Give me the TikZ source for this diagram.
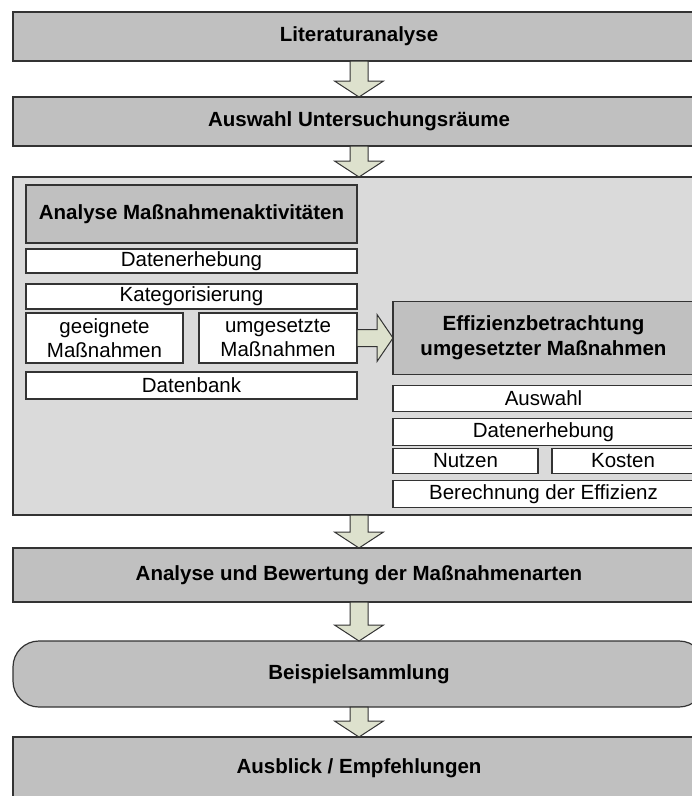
\documentclass[tikz,border=0pt]{standalone}
\usepackage{fontspec}
\setmainfont{Liberation Sans}
\usetikzlibrary{positioning,calc}

\definecolor{boxgrey}{HTML}{C0C0C0}
\definecolor{panelgrey}{HTML}{DADADA}
\definecolor{arrowgreen}{HTML}{DDE1CD}
\definecolor{linegrey}{HTML}{333333}

\tikzset{
  mainbox/.style={draw=linegrey, line width=1.2bp, fill=boxgrey, outer sep=0pt, inner sep=0pt,
    minimum width=692bp, font=\bfseries\fontsize{20.5bp}{24bp}\selectfont},
  panel/.style={draw=linegrey, line width=1.2bp, fill=panelgrey, outer sep=0pt,
    minimum width=692bp, minimum height=338bp},
  headbox/.style={draw=linegrey, line width=1.2bp, fill=boxgrey, outer sep=0pt, inner sep=0pt,
    align=center, font=\bfseries\fontsize{20.5bp}{25bp}\selectfont},
  subbox/.style={draw=linegrey, line width=1.2bp, fill=white, outer sep=0pt, inner sep=0pt,
    align=center, font=\fontsize{20.5bp}{23.5bp}\selectfont},
  flowarrow/.style={draw=linegrey, line width=1bp, fill=arrowgreen, line join=miter},
}

\newcommand{\flowdown}[2]{%
  \draw[flowarrow] ($(#1.south)+(-9bp,0)$) -- ($(#2.north)+(-9bp,16bp)$)
    -- ($(#2.north)+(-24.5bp,16bp)$) -- (#2.north)
    -- ($(#2.north)+(24.5bp,16bp)$) -- ($(#2.north)+(9bp,16bp)$)
    -- ($(#1.south)+(9bp,0)$) -- cycle;}
\newcommand{\flowright}[2]{%
  \draw[flowarrow] ($(#1.east)+(0,8.5bp)$) -- ($(#2.west)+(-16bp,8.5bp)$)
    -- ($(#2.west)+(-16bp,23.5bp)$) -- (#2.west)
    -- ($(#2.west)+(-16bp,-23.5bp)$) -- ($(#2.west)+(-16bp,-8.5bp)$)
    -- ($(#1.east)+(0,-8.5bp)$) -- cycle;}

\begin{document}
\begin{tikzpicture}
  \useasboundingbox (0,0) rectangle (692bp,-796bp);

  \node[mainbox, minimum height=49bp] at (359bp,-36.5bp) (lit) {Literaturanalyse};
  \node[mainbox, minimum height=49bp, below=36bp of lit] (ausw) {Auswahl Untersuchungsräume};
  \node[panel, below=31bp of ausw] (panel) {};
  \node[mainbox, minimum height=54bp, below=33bp of panel] (bew) {Analyse und Bewertung der Maßnahmenarten};
  \node[mainbox, minimum height=66bp, rounded corners=26bp, below=39bp of bew] (beisp) {Beispielsammlung};
  \node[mainbox, minimum height=62bp, below=30bp of beisp] (ausbl) {Ausblick / Empfehlungen};

  \node[headbox, minimum width=331bp, minimum height=58bp, below right=8bp and 13bp of panel.north west] (ana) {Analyse Maßnahmenaktivitäten};
  \node[subbox, minimum width=331bp, minimum height=24bp, below=6bp of ana] (daten1) {Datenerhebung};
  \node[subbox, minimum width=331bp, minimum height=25bp, below=11bp of daten1] (kat) {Kategorisierung};
  \node[subbox, minimum width=157bp, minimum height=50bp, below right=4bp and 0bp of kat.south west] (geeig) {geeignete\\Maßnahmen};
  \node[subbox, minimum width=158bp, minimum height=50bp, below left=4bp and 0bp of kat.south east] (umges) {umgesetzte\\Maßnahmen};
  \node[subbox, minimum width=331bp, minimum height=27bp, below right=9bp and 0bp of geeig.south west] (dbank) {Datenbank};

  \node[headbox, minimum width=301bp, minimum height=73bp, right=36bp of umges] (eff) {Effizienzbetrachtung\\umgesetzter Maßnahmen};
  \node[subbox, minimum width=301bp, minimum height=26bp, below=11bp of eff] (auswahl) {Auswahl};
  \node[subbox, minimum width=301bp, minimum height=27bp, below=7bp of auswahl] (daten2) {Datenerhebung};
  \node[subbox, minimum width=145bp, minimum height=25bp, below right=3bp and 0bp of daten2.south west] (nutzen) {Nutzen};
  \node[subbox, minimum width=142bp, minimum height=25bp, below left=3bp and 0bp of daten2.south east] (kosten) {Kosten};
  \node[subbox, minimum width=301bp, minimum height=27bp, below right=7bp and 0bp of nutzen.south west] (berech) {Berechnung der Effizienz};

  \flowdown{lit}{ausw}
  \flowdown{ausw}{panel}
  \flowdown{panel}{bew}
  \flowdown{bew}{beisp}
  \flowdown{beisp}{ausbl}
  \flowright{umges}{eff}
\end{tikzpicture}
\end{document}
